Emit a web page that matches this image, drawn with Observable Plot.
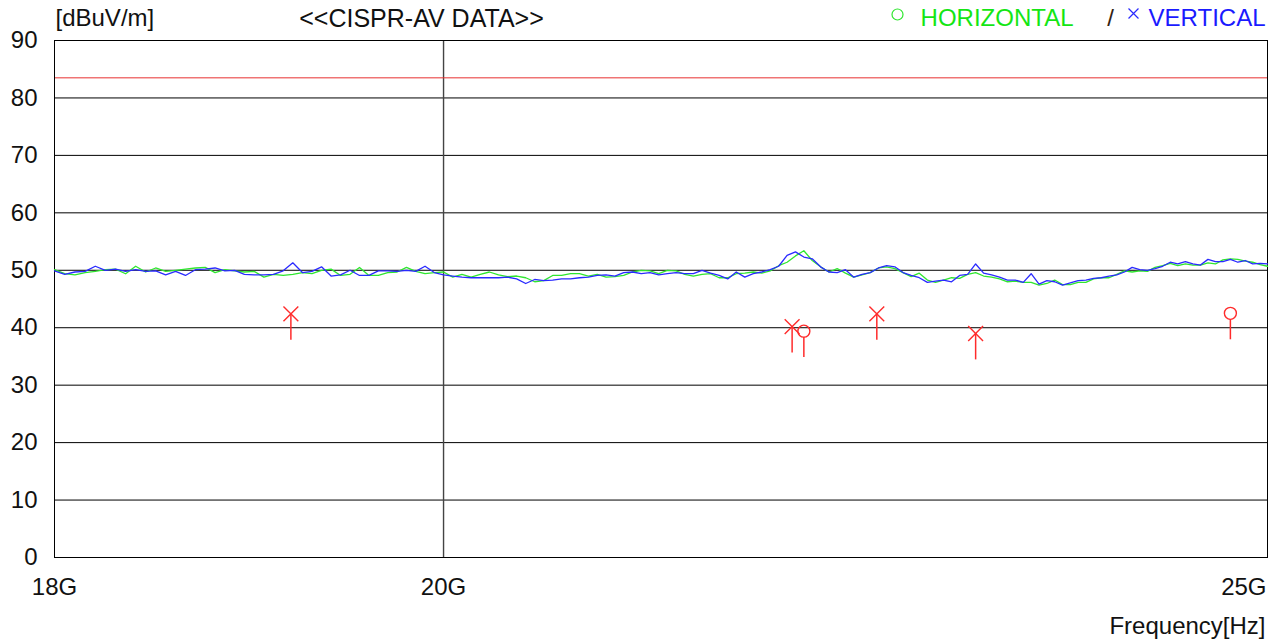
<!DOCTYPE html>
<html>
<head>
<meta charset="utf-8">
<script src="https://cdn.jsdelivr.net/npm/d3@7"></script>
<script src="https://cdn.jsdelivr.net/npm/@observablehq/plot@0.6"></script>
<style>
  html, body { margin: 0; padding: 0; background: #fff; }
</style>
</head>
<body>
<div id="chart"></div>
<script>
// ---- data (frequency in GHz, level in dBuV/m) ----
const freqGHz = [
  18.00, 18.05, 18.10, 18.15, 18.20, 18.25, 18.30, 18.35, 18.40, 18.45,
  18.50, 18.55, 18.60, 18.65, 18.70, 18.75, 18.80, 18.85, 18.90, 18.95,
  19.00, 19.05, 19.10, 19.15, 19.20, 19.25, 19.30, 19.35, 19.40, 19.45,
  19.50, 19.55, 19.60, 19.65, 19.70, 19.75, 19.80, 19.85, 19.90, 19.95,
  20.00, 20.05, 20.10, 20.15, 20.20, 20.25, 20.30, 20.35, 20.40, 20.45,
  20.50, 20.55, 20.60, 20.65, 20.70, 20.75, 20.80, 20.85, 20.90, 20.95,
  21.00, 21.05, 21.10, 21.15, 21.20, 21.25, 21.30, 21.35, 21.40, 21.45,
  21.50, 21.55, 21.60, 21.65, 21.70, 21.75, 21.80, 21.85, 21.90, 21.95,
  22.00, 22.05, 22.10, 22.15, 22.20, 22.25, 22.30, 22.35, 22.40, 22.45,
  22.50, 22.55, 22.60, 22.65, 22.70, 22.75, 22.80, 22.85, 22.90, 22.95,
  23.00, 23.05, 23.10, 23.15, 23.20, 23.25, 23.30, 23.35, 23.40, 23.45,
  23.50, 23.55, 23.60, 23.65, 23.70, 23.75, 23.80, 23.85, 23.90, 23.95,
  24.00, 24.05, 24.10, 24.15, 24.20, 24.25, 24.30, 24.35, 24.40, 24.45,
  24.50, 24.55, 24.60, 24.65, 24.70, 24.75, 24.80, 24.85, 24.90, 24.95,
  25.00
];

const horizontalLevel = [
  50.1, 49.4, 49.2, 49.6, 49.8, 50.1, 50.2, 49.4, 50.7, 49.7,
  50.4, 49.8, 50.0, 50.2, 50.4, 50.5, 49.6, 50.1, 49.9, 49.7,
  49.8, 48.8, 49.3, 49.1, 49.3, 49.6, 49.4, 50.0, 50.2, 49.1,
  49.3, 50.5, 49.1, 49.1, 49.6, 49.7, 50.5, 49.8, 49.4, 49.6,
  49.7, 48.8, 49.3, 48.8, 49.3, 49.7, 49.2, 48.9, 49.0, 48.7,
  48.0, 48.2, 49.1, 49.1, 49.4, 49.4, 49.0, 49.3, 48.8, 48.9,
  49.1, 49.7, 50.0, 49.9, 49.4, 50.0, 49.9, 49.3, 49.0, 49.3,
  49.4, 48.7, 48.7, 49.4, 49.5, 49.7, 49.5, 49.9, 50.8, 51.4,
  52.5, 53.4, 51.7, 50.6, 49.7, 50.3, 49.5, 48.8, 49.2, 49.6,
  50.4, 50.6, 50.3, 49.6, 48.9, 49.5, 48.3, 47.9, 48.3, 48.7,
  48.6, 49.3, 49.6, 49.0, 48.8, 48.5, 48.0, 48.1, 47.9, 47.9,
  47.4, 47.7, 48.3, 47.5, 47.5, 47.9, 47.9, 48.5, 48.7, 48.7,
  49.3, 49.9, 49.7, 49.9, 49.8, 50.5, 50.8, 51.2, 50.8, 51.1,
  50.9, 50.9, 51.3, 51.1, 51.8, 52.0, 51.9, 51.6, 51.4, 51.0,
  50.7
];

const verticalLevel = [
  49.9, 49.3, 49.7, 49.8, 50.7, 50.0, 50.2, 49.8, 50.1, 49.8,
  49.9, 49.2, 49.8, 49.1, 50.1, 50.2, 50.4, 49.9, 50.0, 49.3,
  49.2, 49.2, 49.3, 49.9, 51.3, 49.6, 49.8, 50.6, 49.0, 49.2,
  50.0, 49.1, 49.1, 49.9, 49.9, 49.8, 50.0, 49.8, 50.7, 49.6,
  49.2, 49.0, 48.8, 48.7, 48.7, 48.7, 48.7, 48.8, 48.5, 47.7,
  48.4, 48.2, 48.3, 48.5, 48.5, 48.7, 48.8, 49.1, 49.2, 49.0,
  49.6, 49.7, 49.4, 49.6, 49.2, 49.4, 49.6, 49.4, 49.4, 50.0,
  49.5, 49.1, 48.5, 49.7, 48.8, 49.4, 49.7, 50.1, 50.7, 52.6,
  53.2, 52.3, 52.0, 50.6, 49.7, 49.6, 50.1, 48.8, 49.3, 49.6,
  50.4, 50.8, 50.6, 49.6, 49.1, 48.7, 47.9, 48.1, 48.3, 48.0,
  49.1, 49.3, 51.1, 49.5, 49.2, 48.8, 48.3, 48.3, 47.9, 49.4,
  47.6, 48.2, 48.0, 47.4, 47.8, 48.2, 48.3, 48.6, 48.7, 49.0,
  49.2, 49.7, 50.5, 50.1, 50.0, 50.3, 50.7, 51.4, 51.1, 51.5,
  51.1, 50.9, 51.9, 51.5, 51.5, 51.9, 51.4, 51.7, 51.1, 51.2,
  51.1
];

// measured peaks (AV detector)
const peakFreq  = [19.19, 21.98, 22.05, 22.49, 23.10, 24.75];
const peakLevel = [42.4, 40.2, 39.4, 42.4, 39.0, 42.5];
const peakPol   = ["V", "V", "H", "V", "V", "H"];

const limitLevel = 83.5;

const yTicks = [0, 10, 20, 30, 40, 50, 60, 70, 80, 90];
const xTicks = [18, 20, 25];
const xTickLabels = ["18G", "20G", "25G"];

const titleText = "<<CISPR-AV DATA>>";
const unitText = "[dBuV/m]";
const xLabelText = "Frequency[Hz]";
const legendH = "HORIZONTAL";
const legendV = "VERTICAL";

// ---- build tables ----
const hData = freqGHz.map((f, i) => ({f, v: horizontalLevel[i]}));
const vData = freqGHz.map((f, i) => ({f, v: verticalLevel[i]}));
const peaks = peakFreq.map((f, i) => ({f, v: peakLevel[i], pol: peakPol[i]}));

const GREEN = "#2fe62f";
const GREEN_TXT = "#14e614";
const BLUE = "#2a2aff";
const BLUE_TXT = "#1a1aff";
const RED = "#ff2b2b";
const fmt = d => xTickLabels[xTicks.indexOf(d)];
const STICK = 4.6;

const chart = Plot.plot({
  width: 1284,
  height: 641,
  marginTop: 40,
  marginRight: 17,
  marginBottom: 84,
  marginLeft: 54,
  style: {
    fontFamily: "'Liberation Sans', Arial, sans-serif",
    fontSize: "24px",
    background: "#fff",
    color: "#111"
  },
  x: {type: "log", domain: [18, 25]},
  y: {domain: [0, 90]},
  marks: [
    Plot.ruleY(yTicks, {stroke: "#000", strokeWidth: 1}),
    Plot.ruleX([20], {stroke: "#444", strokeWidth: 1.4}),
    Plot.ruleY([limitLevel], {stroke: "#e83030", strokeWidth: 1}),
    Plot.frame({stroke: "#000", strokeWidth: 1}),
    Plot.line(hData, {x: "f", y: "v", stroke: GREEN, strokeWidth: 1.3}),
    Plot.line(vData, {x: "f", y: "v", stroke: BLUE, strokeWidth: 1.3}),
    Plot.ruleX(peaks, {
      x: "f",
      y1: d => d.v - STICK,
      y2: d => d.pol === "H" ? d.v - 1.1 : d.v,
      stroke: RED, strokeWidth: 1.5
    }),
    Plot.dot(peaks.filter(d => d.pol === "H"), {
      x: "f", y: "v", symbol: "circle", r: 6, stroke: RED, fill: "none", strokeWidth: 1.4
    }),
    Plot.dot(peaks.filter(d => d.pol === "V"), {
      x: "f", y: "v", symbol: "times", r: 6.8, stroke: RED, strokeWidth: 1.4
    }),
    Plot.axisY({ticks: yTicks, tickSize: 0, tickPadding: 17, label: null, fill: "#111"}),
    Plot.axisX({ticks: [18, 20], tickFormat: fmt, tickSize: 0, tickPadding: 20, label: null, fill: "#111"}),
    Plot.axisX({ticks: [25], tickFormat: fmt, tickSize: 0, tickPadding: 20, textAnchor: "end", dx: -1, label: null, fill: "#111"}),
    // header texts
    Plot.text([unitText], {frameAnchor: "top-left", textAnchor: "start", lineAnchor: "middle", dx: 1, dy: -22, fill: "#111"}),
    Plot.text([titleText], {frameAnchor: "top-left", textAnchor: "middle", lineAnchor: "middle", dx: 367, dy: -22, fontSize: 25, fill: "#111"}),
    Plot.dot([0], {frameAnchor: "top-left", dx: 843, dy: -26, r: 5.5, symbol: "circle", stroke: GREEN, fill: "none", strokeWidth: 1.2}),
    Plot.text([legendH], {frameAnchor: "top-right", textAnchor: "end", lineAnchor: "middle", dx: -194, dy: -22, fill: GREEN_TXT}),
    Plot.text(["/"], {frameAnchor: "top-right", textAnchor: "middle", lineAnchor: "middle", dx: -157, dy: -22, fill: "#332211"}),
    Plot.dot([0], {frameAnchor: "top-right", dx: -134, dy: -27, r: 4.6, symbol: "times", stroke: BLUE, strokeWidth: 1.2}),
    Plot.text([legendV], {frameAnchor: "top-right", textAnchor: "end", lineAnchor: "middle", dx: -2, dy: -22, fill: BLUE_TXT}),
    Plot.text([xLabelText], {frameAnchor: "bottom-right", textAnchor: "end", lineAnchor: "middle", dx: -2, dy: 69, fill: "#111"})
  ]
});

document.getElementById("chart").appendChild(chart);
</script>
</body>
</html>
